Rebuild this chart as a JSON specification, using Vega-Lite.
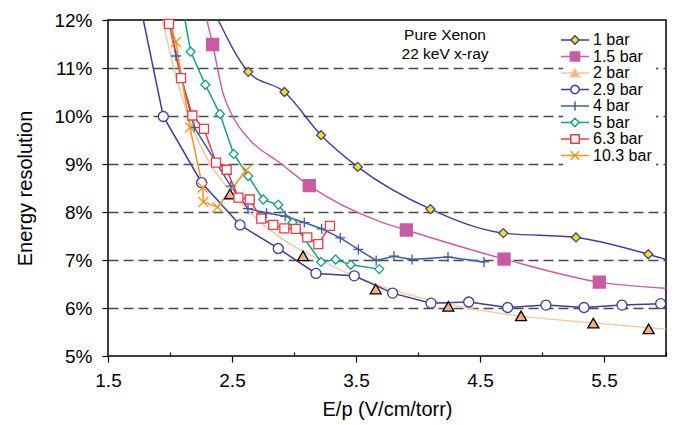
{
  "$schema": "https://vega.github.io/schema/vega-lite/v6.json",
  "width": 558,
  "height": 336,
  "autosize": {"type": "none"},
  "padding": {"left": 108, "top": 20, "right": 10, "bottom": 69},
  "background": "white",
  "datasets": {
    "pts": [
      {"series": "1 bar", "ep": 2.389, "res": 12.0, "kind": "curve"},
      {"series": "1 bar", "ep": 2.631, "res": 10.92, "kind": "both"},
      {"series": "1 bar", "ep": 2.923, "res": 10.5, "kind": "both"},
      {"series": "1 bar", "ep": 3.218, "res": 9.6, "kind": "both"},
      {"series": "1 bar", "ep": 3.514, "res": 8.94, "kind": "both"},
      {"series": "1 bar", "ep": 4.1, "res": 8.06, "kind": "both"},
      {"series": "1 bar", "ep": 4.688, "res": 7.56, "kind": "both"},
      {"series": "1 bar", "ep": 5.274, "res": 7.47, "kind": "both"},
      {"series": "1 bar", "ep": 5.857, "res": 7.12, "kind": "both"},
      {"series": "1 bar", "ep": 6.0, "res": 7.01, "kind": "curve"},

      {"series": "1.5 bar", "ep": 2.298, "res": 12.0, "kind": "curve"},
      {"series": "1.5 bar", "ep": 2.344, "res": 11.49, "kind": "both"},
      {"series": "1.5 bar", "ep": 2.427, "res": 10.48, "kind": "curve"},
      {"series": "1.5 bar", "ep": 2.508, "res": 9.98, "kind": "curve"},
      {"series": "1.5 bar", "ep": 2.645, "res": 9.5, "kind": "curve"},
      {"series": "1.5 bar", "ep": 2.887, "res": 9.02, "kind": "curve"},
      {"series": "1.5 bar", "ep": 3.123, "res": 8.55, "kind": "both"},
      {"series": "1.5 bar", "ep": 3.694, "res": 7.8, "kind": "curve"},
      {"series": "1.5 bar", "ep": 3.906, "res": 7.625, "kind": "both"},
      {"series": "1.5 bar", "ep": 4.694, "res": 7.02, "kind": "both"},
      {"series": "1.5 bar", "ep": 5.462, "res": 6.54, "kind": "both"},
      {"series": "1.5 bar", "ep": 6.0, "res": 6.41, "kind": "curve"},

      {"series": "2 bar", "ep": 2.484, "res": 8.37, "kind": "marker"},
      {"series": "2 bar", "ep": 3.073, "res": 7.08, "kind": "marker"},
      {"series": "2 bar", "ep": 3.659, "res": 6.39, "kind": "marker"},
      {"series": "2 bar", "ep": 4.245, "res": 6.03, "kind": "marker"},
      {"series": "2 bar", "ep": 4.831, "res": 5.83, "kind": "marker"},
      {"series": "2 bar", "ep": 5.414, "res": 5.68, "kind": "marker"},
      {"series": "2 bar", "ep": 5.86, "res": 5.56, "kind": "marker"},
      {"series": "2 bar", "ep": 1.941, "res": 12.0, "kind": "curve"},
      {"series": "2 bar", "ep": 2.05, "res": 10.8, "kind": "curve"},
      {"series": "2 bar", "ep": 2.161, "res": 9.9, "kind": "curve"},
      {"series": "2 bar", "ep": 2.3, "res": 9.1, "kind": "curve"},
      {"series": "2 bar", "ep": 2.45, "res": 8.55, "kind": "curve"},
      {"series": "2 bar", "ep": 2.62, "res": 8.05, "kind": "curve"},
      {"series": "2 bar", "ep": 2.887, "res": 7.47, "kind": "curve"},
      {"series": "2 bar", "ep": 3.21, "res": 7.0, "kind": "curve"},
      {"series": "2 bar", "ep": 3.694, "res": 6.46, "kind": "curve"},
      {"series": "2 bar", "ep": 4.242, "res": 6.08, "kind": "curve"},
      {"series": "2 bar", "ep": 4.831, "res": 5.83, "kind": "curve"},
      {"series": "2 bar", "ep": 5.411, "res": 5.69, "kind": "curve"},
      {"series": "2 bar", "ep": 6.0, "res": 5.56, "kind": "curve"},

      {"series": "2.9 bar", "ep": 1.785, "res": 12.0, "kind": "curve"},
      {"series": "2.9 bar", "ep": 1.946, "res": 9.99, "kind": "both"},
      {"series": "2.9 bar", "ep": 2.255, "res": 8.61, "kind": "both"},
      {"series": "2.9 bar", "ep": 2.565, "res": 7.73, "kind": "both"},
      {"series": "2.9 bar", "ep": 2.873, "res": 7.24, "kind": "both"},
      {"series": "2.9 bar", "ep": 3.177, "res": 6.72, "kind": "both"},
      {"series": "2.9 bar", "ep": 3.486, "res": 6.67, "kind": "both"},
      {"series": "2.9 bar", "ep": 3.795, "res": 6.31, "kind": "both"},
      {"series": "2.9 bar", "ep": 4.105, "res": 6.1, "kind": "both"},
      {"series": "2.9 bar", "ep": 4.409, "res": 6.125, "kind": "both"},
      {"series": "2.9 bar", "ep": 4.723, "res": 6.01, "kind": "both"},
      {"series": "2.9 bar", "ep": 5.032, "res": 6.06, "kind": "both"},
      {"series": "2.9 bar", "ep": 5.339, "res": 6.01, "kind": "both"},
      {"series": "2.9 bar", "ep": 5.645, "res": 6.06, "kind": "both"},
      {"series": "2.9 bar", "ep": 5.957, "res": 6.09, "kind": "both"},

      {"series": "4 bar", "ep": 2.008, "res": 12.0, "kind": "curve"},
      {"series": "4 bar", "ep": 2.048, "res": 11.25, "kind": "both"},
      {"series": "4 bar", "ep": 2.196, "res": 9.76, "kind": "both"},
      {"series": "4 bar", "ep": 2.49, "res": 8.54, "kind": "both"},
      {"series": "4 bar", "ep": 2.629, "res": 8.07, "kind": "both"},
      {"series": "4 bar", "ep": 2.778, "res": 7.98, "kind": "both"},
      {"series": "4 bar", "ep": 2.929, "res": 7.91, "kind": "both"},
      {"series": "4 bar", "ep": 3.083, "res": 7.78, "kind": "both"},
      {"series": "4 bar", "ep": 3.223, "res": 7.65, "kind": "both"},
      {"series": "4 bar", "ep": 3.373, "res": 7.46, "kind": "both"},
      {"series": "4 bar", "ep": 3.519, "res": 7.22, "kind": "both"},
      {"series": "4 bar", "ep": 3.663, "res": 6.99, "kind": "both"},
      {"series": "4 bar", "ep": 3.806, "res": 7.08, "kind": "both"},
      {"series": "4 bar", "ep": 3.952, "res": 7.01, "kind": "both"},
      {"series": "4 bar", "ep": 4.242, "res": 7.06, "kind": "both"},
      {"series": "4 bar", "ep": 4.532, "res": 6.96, "kind": "both"},

      {"series": "5 bar", "ep": 2.121, "res": 12.0, "kind": "curve"},
      {"series": "5 bar", "ep": 2.167, "res": 11.34, "kind": "both"},
      {"series": "5 bar", "ep": 2.285, "res": 10.65, "kind": "both"},
      {"series": "5 bar", "ep": 2.403, "res": 10.04, "kind": "both"},
      {"series": "5 bar", "ep": 2.513, "res": 9.21, "kind": "both"},
      {"series": "5 bar", "ep": 2.631, "res": 8.75, "kind": "both"},
      {"series": "5 bar", "ep": 2.752, "res": 8.26, "kind": "both"},
      {"series": "5 bar", "ep": 2.873, "res": 8.15, "kind": "both"},
      {"series": "5 bar", "ep": 2.989, "res": 7.78, "kind": "both"},
      {"series": "5 bar", "ep": 3.218, "res": 6.96, "kind": "both"},
      {"series": "5 bar", "ep": 3.336, "res": 7.01, "kind": "both"},
      {"series": "5 bar", "ep": 3.457, "res": 6.9, "kind": "both"},
      {"series": "5 bar", "ep": 3.688, "res": 6.81, "kind": "both"},

      {"series": "6.3 bar", "ep": 1.992, "res": 11.92, "kind": "both"},
      {"series": "6.3 bar", "ep": 2.089, "res": 10.79, "kind": "both"},
      {"series": "6.3 bar", "ep": 2.18, "res": 10.01, "kind": "both"},
      {"series": "6.3 bar", "ep": 2.274, "res": 9.73, "kind": "both"},
      {"series": "6.3 bar", "ep": 2.371, "res": 9.03, "kind": "both"},
      {"series": "6.3 bar", "ep": 2.457, "res": 8.88, "kind": "both"},
      {"series": "6.3 bar", "ep": 2.552, "res": 8.3, "kind": "both"},
      {"series": "6.3 bar", "ep": 2.643, "res": 8.26, "kind": "both"},
      {"series": "6.3 bar", "ep": 2.736, "res": 7.86, "kind": "both"},
      {"series": "6.3 bar", "ep": 2.833, "res": 7.73, "kind": "both"},
      {"series": "6.3 bar", "ep": 2.922, "res": 7.66, "kind": "both"},
      {"series": "6.3 bar", "ep": 3.014, "res": 7.65, "kind": "both"},
      {"series": "6.3 bar", "ep": 3.107, "res": 7.47, "kind": "both"},
      {"series": "6.3 bar", "ep": 3.196, "res": 7.33, "kind": "both"},
      {"series": "6.3 bar", "ep": 3.29, "res": 7.71, "kind": "both"},

      {"series": "10.3 bar", "ep": 1.986, "res": 12.0, "kind": "curve"},
      {"series": "10.3 bar", "ep": 2.048, "res": 11.54, "kind": "both"},
      {"series": "10.3 bar", "ep": 2.161, "res": 9.76, "kind": "both"},
      {"series": "10.3 bar", "ep": 2.264, "res": 8.51, "kind": "both"},
      {"series": "10.3 bar", "ep": 2.269, "res": 8.21, "kind": "both"},
      {"series": "10.3 bar", "ep": 2.383, "res": 8.1, "kind": "both"},
      {"series": "10.3 bar", "ep": 2.615, "res": 8.87, "kind": "both"}
    ]
  },
  "data": {"name": "pts"},
  "resolve": {"scale": {"color": "independent", "fill": "independent", "stroke": "independent", "shape": "independent"}},
  "layer": [
    {
      "transform": [{"filter": "datum.kind != 'marker' && indexof(['1 bar','1.5 bar','2 bar'], datum.series) >= 0"}],
      "mark": {"type": "line", "interpolate": "monotone", "strokeWidth": 1.4, "clip": true},
      "encoding": {
        "x": {
          "field": "ep", "type": "quantitative",
          "scale": {"domain": [1.5, 6.0], "nice": false, "zero": false},
          "axis": {
            "title": "E/p (V/cm/torr)",
            "values": [1.5, 1.75, 2.0, 2.25, 2.5, 2.75, 3.0, 3.25, 3.5, 3.75, 4.0, 4.25, 4.5, 4.75, 5.0, 5.25, 5.5, 5.75, 6.0],
            "labelExpr": "datum.value % 1 == 0.5 ? format(datum.value, '.1f') : ''",
            "tickSize": {"condition": {"test": "datum.value % 1 == 0.5", "value": 6}, "value": -4},
            "grid": false,
            "domain": false,
            "labelFontSize": 19,
            "titleFontSize": 20,
            "labelPadding": 9,
            "titlePadding": 9,
            "labelFlush": false,
            "labelOverlap": false
          }
        },
        "y": {
          "field": "res", "type": "quantitative",
          "scale": {"domain": [5, 12], "nice": false, "zero": false},
          "axis": {
            "title": "Energy  resolution",
            "values": [5, 6, 7, 8, 9, 10, 11, 12],
            "labelExpr": "datum.value + '%'",
            "tickSize": 6,
            "domain": false,
            "grid": true,
            "gridDash": [10, 5],
            "gridColor": "#4a4a4a",
            "gridWidth": 1.5,
            "gridOpacity": {"condition": {"test": "datum.value == 5 || datum.value == 12", "value": 0}, "value": 1},
            "labelFontSize": 19,
            "titleFontSize": 20,
            "labelPadding": 10,
            "titlePadding": 18
          }
        },
        "color": {
          "field": "series", "type": "nominal", "legend": null,
          "scale": {
            "domain": ["1 bar", "1.5 bar", "2 bar", "2.9 bar", "4 bar", "5 bar", "6.3 bar", "10.3 bar"],
            "range": ["#3f3e9b", "#cc5ca6", "#f9c49c", "#3e3da0", "#3d5caa", "#17a084", "#ee3b45", "#f7941d"]
          }
        }
      }
    },
    {
      "transform": [{"filter": "datum.kind != 'marker' && indexof(['1 bar','1.5 bar','2 bar'], datum.series) < 0"}],
      "mark": {"type": "line", "strokeWidth": 1.5, "clip": true},
      "encoding": {
        "x": {"field": "ep", "type": "quantitative"},
        "y": {"field": "res", "type": "quantitative"},
        "color": {
          "field": "series", "type": "nominal", "legend": null,
          "scale": {
            "domain": ["1 bar", "1.5 bar", "2 bar", "2.9 bar", "4 bar", "5 bar", "6.3 bar", "10.3 bar"],
            "range": ["#3f3e9b", "#cc5ca6", "#f9c49c", "#3e3da0", "#3d5caa", "#17a084", "#ee3b45", "#f7941d"]
          }
        }
      }
    },
    {
      "transform": [{"filter": "datum.kind != 'curve'"}],
      "mark": {"type": "point", "filled": true, "size": 100, "strokeWidth": 1.3, "opacity": 1},
      "encoding": {
        "x": {"field": "ep", "type": "quantitative"},
        "y": {"field": "res", "type": "quantitative"},
        "shape": {
          "field": "series", "type": "nominal", "legend": null,
          "scale": {
            "domain": ["1 bar", "1.5 bar", "2 bar", "2.9 bar", "4 bar", "5 bar", "6.3 bar", "10.3 bar"],
            "range": ["M0,-0.9L0.9,0L0,0.9L-0.9,0Z", "M-1.2,-1.2H1.2V1.2H-1.2Z", "M0,-1L1.1,0.9H-1.1Z", "circle", "M-1,0H1M0,-1V1", "M0,-0.9L0.9,0L0,0.9L-0.9,0Z", "M-0.9,-0.9H0.9V0.9H-0.9Z", "M-1,-1L1,1M-1,1L1,-1"]
          }
        },
        "fill": {
          "field": "series", "type": "nominal", "legend": null,
          "scale": {
            "domain": ["1 bar", "1.5 bar", "2 bar", "2.9 bar", "4 bar", "5 bar", "6.3 bar", "10.3 bar"],
            "range": ["#f5e400", "#c95aa3", "#f5b183", "white", "white", "white", "white", "white"]
          }
        },
        "stroke": {
          "field": "series", "type": "nominal", "legend": null,
          "scale": {
            "domain": ["1 bar", "1.5 bar", "2 bar", "2.9 bar", "4 bar", "5 bar", "6.3 bar", "10.3 bar"],
            "range": ["#3f3e9b", "#c95aa3", "#000000", "#3e3da0", "#3d5caa", "#17a084", "#ee3b45", "#f7941d"]
          }
        }
      }
    },
    {
      "transform": [{"filter": "datum.kind == 'none'"}],
      "mark": {"type": "point", "filled": true, "strokeWidth": 1.5},
      "encoding": {
        "x": {"field": "ep", "type": "quantitative"},
        "y": {"field": "res", "type": "quantitative"},
        "shape": {
          "field": "series", "type": "nominal", "title": null,
          "scale": {
            "domain": ["1 bar", "1.5 bar", "2 bar", "2.9 bar", "4 bar", "5 bar", "6.3 bar", "10.3 bar"],
            "range": [
              "M-2.8,0H-0.84M0.84,0H2.8M0,-0.84L0.84,0L0,0.84L-0.84,0Z",
              "M-2.8,0H-0.92M0.92,0H2.8M-0.92,-0.92H0.92V0.92H-0.92Z",
              "M-2.8,0H-0.56M0.56,0H2.8M0,-0.84L0.92,0.76H-0.92Z",
              "M-2.8,0H-0.84M0.84,0H2.8M0.84,0L0.73,0.42L0.42,0.73L0,0.84L-0.42,0.73L-0.73,0.42L-0.84,0L-0.73,-0.42L-0.42,-0.73L0,-0.84L0.42,-0.73L0.73,-0.42Z",
              "M-2.8,0H2.8M0,-0.92V0.92",
              "M-2.8,0H-0.84M0.84,0H2.8M0,-0.84L0.84,0L0,0.84L-0.84,0Z",
              "M-2.8,0H-0.84M0.84,0H2.8M-0.84,-0.84H0.84V0.84H-0.84Z",
              "M-2.8,0H2.8M-0.84,-0.84L0.84,0.84M-0.84,0.84L0.84,-0.84"
            ]
          }
        },
        "fill": {
          "field": "series", "type": "nominal", "title": null,
          "scale": {
            "domain": ["1 bar", "1.5 bar", "2 bar", "2.9 bar", "4 bar", "5 bar", "6.3 bar", "10.3 bar"],
            "range": ["#f5e400", "#c95aa3", "#f5b183", "white", "white", "white", "white", "white"]
          }
        },
        "stroke": {
          "field": "series", "type": "nominal", "title": null,
          "scale": {
            "domain": ["1 bar", "1.5 bar", "2 bar", "2.9 bar", "4 bar", "5 bar", "6.3 bar", "10.3 bar"],
            "range": ["#3f3e9b", "#cc5ca6", "#f9c49c", "#3e3da0", "#3d5caa", "#17a084", "#ee3b45", "#f7941d"]
          }
        }
      }
    },
    {
      "data": {"values": [{}]},
      "mark": {"type": "text", "text": ["Pure Xenon", "22 keV x-ray"], "fontSize": 15.5, "lineHeight": 19, "align": "center", "baseline": "middle", "color": "black"},
      "encoding": {
        "x": {"datum": 4.218, "type": "quantitative"},
        "y": {"datum": 11.69, "type": "quantitative"}
      }
    }
  ],
  "config": {
    "font": "Liberation Sans",
    "view": {"stroke": "black", "strokeWidth": 1.5},
    "axis": {
      "labelColor": "black",
      "titleColor": "black",
      "tickColor": "black",
      "tickWidth": 1.2,
      "titleFontWeight": "normal",
      "labelFont": "Liberation Sans",
      "titleFont": "Liberation Sans"
    },
    "legend": {
      "orient": "none",
      "legendX": 455,
      "legendY": 8,
      "title": null,
      "labelFontSize": 16,
      "labelFont": "Liberation Sans",
      "labelColor": "black",
      "symbolSize": 100,
      "symbolStrokeWidth": 1.5,
      "symbolOpacity": 1,
      "fillColor": "white",
      "padding": 4,
      "rowPadding": 0.5,
      "labelOffset": 10
    }
  }
}
